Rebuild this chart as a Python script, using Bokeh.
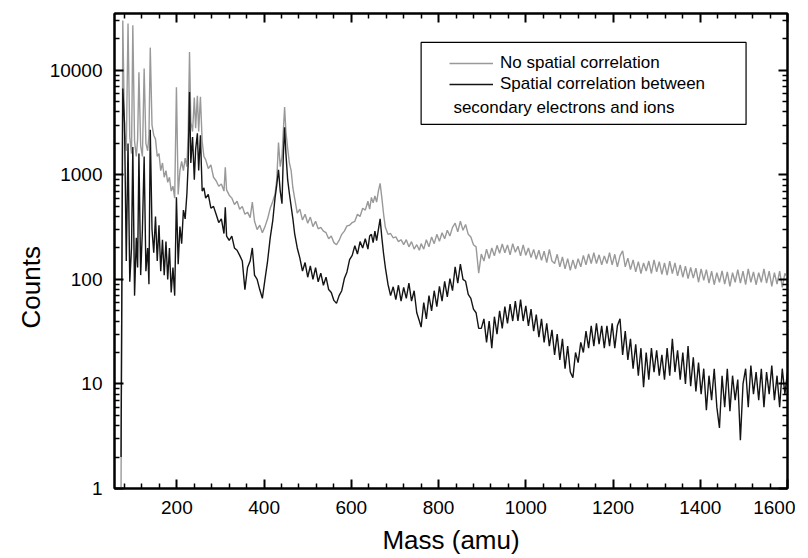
from bokeh.plotting import figure
from bokeh.models import (Range1d, LinearAxis, LogAxis, FixedTicker, Legend, LegendItem,
                          BoxAnnotation, Label, PrintfTickFormatter, ColumnDataSource, Title)
from bokeh.embed import file_html
from bokeh.resources import INLINE

# ---------------- data ----------------
head_mass = [
    72, 76, 80, 84, 88, 92, 96, 99, 103, 107,
    110, 113, 117, 121, 125, 129, 133, 136, 139, 143,
    147, 151, 155, 159, 163, 167, 171, 175, 179, 183,
    187, 191, 195, 199, 203, 207, 211, 215, 219, 223,
    226, 229, 232, 236, 240, 243, 247, 250, 254, 258,
    262]
gray_head = [
    1, 30000, 2600, 1700, 28000, 2300, 1600, 27000, 2100, 1500,
    2200, 9600, 1900, 1500, 10400, 2000, 1700, 2400, 16500, 3000,
    2400, 2200, 1500, 1600, 1100, 1300, 950, 1100, 850, 950,
    700, 780, 600, 6900, 650, 1100, 1350, 1100, 1450, 1200,
    2600, 15000, 3200, 2600, 5500, 2800, 5700, 2600, 5600, 2100,
    1500]
black_head = [
    2, 6700, 3100, 150, 2000, 95, 200, 1850, 70, 250,
    130, 1600, 110, 300, 1500, 120, 200, 90, 2700, 300,
    180, 400, 150, 330, 120, 240, 110, 230, 100, 200,
    75, 130, 70, 610, 140, 320, 220, 460, 380, 660,
    1300, 6200, 1300, 2300, 900, 1750, 2500, 1100, 2400, 700,
    750]

mid_mass = [
    266, 272, 278, 284, 290, 296, 302, 308, 311, 314,
    320, 326, 332, 338, 344, 350, 356, 362, 368, 373,
    378, 384, 390, 396, 402, 408, 414, 420, 425, 429,
    433, 437, 441, 444, 447, 450, 454, 458, 462, 466,
    470, 476, 482, 488, 494, 500, 506, 512, 518, 524,
    530, 536, 542, 548, 554, 560, 566, 572, 578, 584,
    590, 596, 602, 608, 614, 620, 626, 632, 638, 642,
    646, 650, 654, 658, 662, 666, 670, 674, 678, 684,
    690, 696, 702, 708, 714, 720, 726, 732, 738, 744,
    750, 756, 760]
gray_mid = [
    1400, 1150, 1250, 950, 880, 780, 820, 700, 1180, 720,
    640, 600, 520, 560, 470, 500, 420, 440, 390, 550,
    360, 300, 330, 280, 320, 380, 480, 560, 650, 900,
    2040, 1200, 1500, 2600, 4450, 2600, 1800, 1300, 1100, 750,
    600, 430, 470, 370, 420, 345, 395, 320, 360, 305,
    315, 290, 280, 245, 260, 225, 215, 236, 270, 290,
    325, 330, 350, 360, 420, 400, 480, 460, 560, 470,
    610, 540, 630, 550, 700, 830, 600, 420, 315, 270,
    275, 250, 255, 230, 240, 215, 240, 205, 230, 195,
    215, 190, 220]
black_mid = [
    600, 650, 480, 500, 420, 350, 380, 275, 490, 260,
    236, 260, 200, 190, 170, 150, 80, 130, 150, 200,
    110, 100, 80, 66, 100, 150, 250, 370, 600, 800,
    1120, 700, 530, 1500, 2850, 1600, 900, 660, 500, 380,
    275, 200, 160, 120, 145, 105, 135, 100, 130, 95,
    115, 88, 105, 80, 75, 63, 59, 70, 78, 102,
    118, 155, 170, 210, 175, 230, 200, 245, 195, 260,
    270, 225, 290, 235, 300, 380, 250, 175, 130, 90,
    70, 85, 64, 88, 62, 84, 66, 92, 62, 78,
    48, 40, 35]

tail_mass = [
    766, 772, 778, 784, 790, 796, 802, 808, 814, 820,
    826, 832, 838, 844, 850, 856, 862, 868, 874, 880,
    886, 892, 898, 904, 910, 916, 922, 928, 934, 940,
    946, 952, 958, 964, 970, 976, 982, 988, 994, 1000,
    1006, 1012, 1018, 1024, 1030, 1036, 1042, 1048, 1054, 1060,
    1066, 1072, 1078, 1084, 1090, 1096, 1102, 1108, 1114, 1120,
    1126, 1132, 1138, 1144, 1150, 1156, 1162, 1168, 1174, 1180,
    1186, 1192, 1198, 1204, 1210, 1216, 1222, 1228, 1234, 1240,
    1246, 1252, 1258, 1264, 1270, 1276, 1282, 1288, 1294, 1300,
    1306, 1312, 1318, 1324, 1330, 1336, 1342, 1348, 1354, 1360,
    1366, 1372, 1378, 1384, 1390, 1396, 1402, 1408, 1414, 1420,
    1426, 1432, 1438, 1444, 1450, 1456, 1462, 1468, 1474, 1480,
    1486, 1492, 1498, 1504, 1510, 1516, 1522, 1528, 1534, 1540,
    1546, 1552, 1558, 1564, 1570, 1576, 1582, 1588, 1594, 1600]
gray_tail = [
    195, 240, 205, 255, 220, 270, 232, 280, 245, 295,
    260, 315, 345, 285, 360, 295, 335, 270, 255, 215,
    205, 115, 175, 150, 195, 158, 200, 168, 212, 178,
    218, 180, 214, 172, 220, 182, 208, 168, 214, 170,
    200, 162, 194, 156, 190, 152, 186, 145, 194, 150,
    142, 174, 132, 164, 126, 158, 122, 154, 126, 158,
    132, 170, 138, 175, 142, 180, 142, 172, 138, 168,
    142, 180, 138, 174, 132, 168, 188, 132, 160, 124,
    154, 118, 148, 114, 144, 120, 150, 114, 154, 118,
    148, 112, 144, 110, 150, 114, 144, 108, 138, 105,
    134, 102, 130, 103, 128, 94, 126, 98, 124, 92,
    120, 89, 116, 94, 121, 90, 118, 86, 116, 94,
    124, 92, 120, 89, 126, 94, 118, 89, 116, 94,
    126, 92, 120, 86, 116, 90, 120, 84, 114, 104]
black_tail = [
    60, 42, 70, 50, 78, 55, 86, 62, 96, 68,
    102, 78, 132, 92, 140, 100, 96, 72, 66, 52,
    48, 34, 34, 42, 25, 40, 22, 44, 30, 50,
    34, 55, 38, 58, 40, 62, 40, 64, 40, 56,
    36, 52, 32, 46, 28, 42, 25, 38, 23, 33,
    19, 30, 17, 27, 14, 23, 13, 11.5, 20, 16,
    25, 20, 32, 22, 36, 23, 38, 24, 36, 22,
    36, 23, 38, 22, 36, 42, 19, 32, 17, 27,
    14, 24, 12, 22, 9.3, 20, 11, 22, 13, 21,
    12, 19, 11, 22, 12, 27, 13, 21, 11, 20,
    10, 23, 9.5, 18, 8.5, 16, 8, 14, 5.6, 12,
    7, 14, 6, 3.8, 12, 6, 14, 5.5, 12, 7,
    11, 2.9, 10, 14, 6, 15, 8, 13, 7, 14,
    6, 13, 8, 15, 7, 12, 6, 14, 8, 13]

x_major_ticks = [200, 400, 600, 800, 1000, 1200, 1400, 1600]
x_minor_ticks = [80, 120, 160, 240, 280, 320, 360, 440, 480, 520, 560, 640, 680, 720, 760,
                 840, 880, 920, 960, 1040, 1080, 1120, 1160, 1240, 1280, 1320, 1360,
                 1440, 1480, 1520, 1560]
y_major_ticks = [1, 10, 100, 1000, 10000]
y_minor_ticks = [2, 3, 4, 5, 6, 7, 8, 9, 20, 30, 40, 50, 60, 70, 80, 90,
                 200, 300, 400, 500, 600, 700, 800, 900,
                 2000, 3000, 4000, 5000, 6000, 7000, 8000, 9000, 20000, 30000]

series_labels = ["No spatial correlation", "Spatial correlation between",
                 "secondary electrons and ions"]
x_title = "Mass (amu)"
y_title = "Counts"

# ---------------- figure ----------------
SANS = "Liberation Sans, Arial, sans-serif"

p = figure(width=795, height=558, output_backend="svg", toolbar_location=None,
           x_range=Range1d(57, 1600), y_range=Range1d(1, 35000), y_axis_type="log",
           min_border_left=114, min_border_right=8, min_border_top=13, min_border_bottom=70)
p.grid.visible = False
p.outline_line_color = "black"
p.outline_line_width = 2
p.background_fill_color = "white"
p.border_fill_color = "white"

src_gray = ColumnDataSource(dict(x=head_mass + mid_mass + tail_mass,
                                 y=gray_head + gray_mid + gray_tail))
src_black = ColumnDataSource(dict(x=head_mass + mid_mass + tail_mass,
                                  y=black_head + black_mid + black_tail))
r_gray = p.line("x", "y", source=src_gray, line_color="#999999", line_width=1.4)
r_black = p.line("x", "y", source=src_black, line_color="#141414", line_width=1.4)

bottom_axis = p.below[0]
left_axis = p.left[0]
top_axis = LinearAxis()
right_axis = LogAxis()
p.add_layout(top_axis, "above")
p.add_layout(right_axis, "right")

for ax in [bottom_axis, top_axis]:
    ax.ticker = FixedTicker(ticks=x_major_ticks, minor_ticks=x_minor_ticks)
for ax in [left_axis, right_axis]:
    ax.ticker = FixedTicker(ticks=y_major_ticks, minor_ticks=y_minor_ticks)

for ax in [bottom_axis, top_axis, left_axis, right_axis]:
    ax.formatter = PrintfTickFormatter(format="%d")
    ax.axis_line_color = "black"
    ax.axis_line_width = 2
    ax.major_tick_in = 9
    ax.major_tick_out = 0
    ax.minor_tick_in = 5
    ax.minor_tick_out = 0
    ax.major_tick_line_color = "black"
    ax.minor_tick_line_color = "black"
    ax.major_tick_line_width = 2
    ax.minor_tick_line_width = 1.5
    ax.major_label_text_color = "black"
    ax.major_label_text_font = SANS
    ax.major_label_text_font_size = "19px"

for ax in [top_axis, right_axis]:
    ax.major_label_text_font_size = "1px"
    ax.major_label_text_alpha = 0
    ax.major_label_standoff = 0

left_axis.major_label_standoff = 12
bottom_axis.major_label_standoff = 12

bottom_axis.axis_label = x_title
bottom_axis.axis_label_text_font = SANS
bottom_axis.axis_label_text_font_size = "26px"
bottom_axis.axis_label_text_font_style = "normal"
bottom_axis.axis_label_text_color = "black"
bottom_axis.axis_label_standoff = 8

# y title as a side title so it can sit slightly below the frame centre, as in the original
p.add_layout(Title(text=y_title, align="left", offset=160, vertical_align="middle",
                   standoff=0, text_font=SANS, text_font_size="26px",
                   text_font_style="normal", text_color="black"), "left")

# ---------------- legend ----------------
legend = Legend(items=[LegendItem(label=series_labels[0], renderers=[r_gray]),
                       LegendItem(label=series_labels[1], renderers=[r_black])],
                location=(335, 394), orientation="vertical",
                border_line_color=None, background_fill_alpha=0,
                padding=0, margin=0, spacing=1, glyph_width=44, glyph_height=20,
                label_height=20, label_standoff=7,
                label_text_font=SANS, label_text_font_size="17px", label_text_color="black")
p.add_layout(legend)

box = BoxAnnotation(left=760, right=1505, bottom=3040, top=18500,
                    fill_alpha=0, line_color="black", line_width=1.2, line_alpha=1)
p.add_layout(box)
p.add_layout(Label(x=834, y=4425, text=series_labels[2], text_baseline="middle",
                   text_font=SANS, text_font_size="17px", text_color="black"))

open("out.html", "w").write(file_html(p, INLINE))
